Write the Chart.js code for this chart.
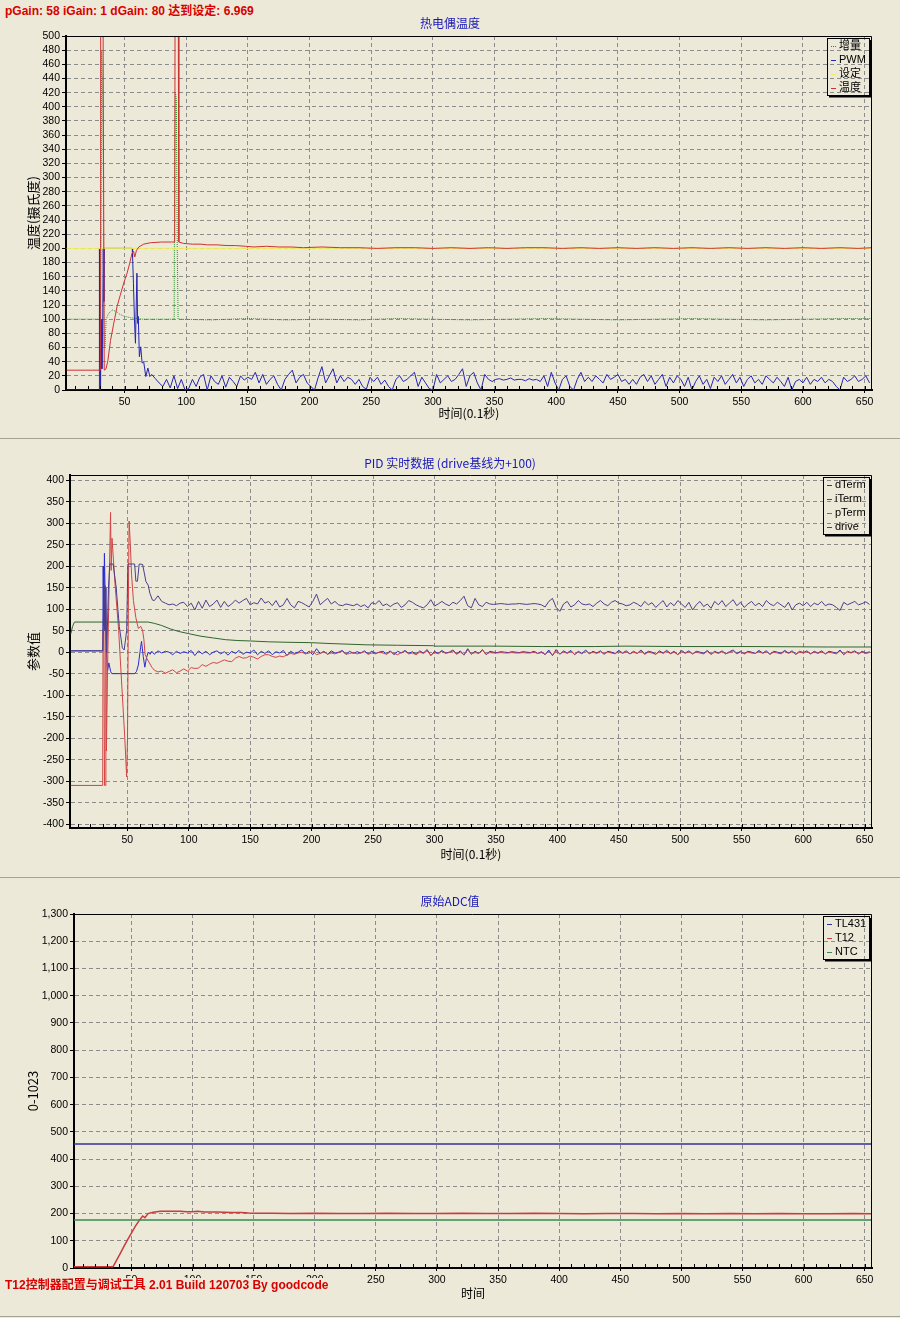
<!DOCTYPE html>
<html><head><meta charset="utf-8">
<script src="https://cdn.jsdelivr.net/npm/chart.js@4.4.0/dist/chart.umd.min.js"></script>
<style>
html,body{margin:0;padding:0;background:#ECE9D8;}
body{width:900px;height:1318px;position:relative;overflow:hidden;font-family:"Liberation Sans",Arial,"Noto Sans CJK SC",sans-serif;}
canvas{position:absolute;left:0;}
#c1{top:0;} #c2{top:440px;} #c3{top:879px;}
.sep{position:absolute;left:0;width:900px;height:1px;background:#A7A391;}
.red{position:absolute;left:5px;color:#D80000;font-weight:bold;font-size:12px;font-family:"Liberation Sans",Arial,"Noto Sans CJK SC",sans-serif;white-space:nowrap;line-height:14px;}
#hdr{top:4px;}
#ftr{top:1278px;background:#ECE9D8;padding:0 4px 0 0;}
</style></head><body>
<div class="red" id="hdr">pGain: 58 iGain: 1 dGain: 80 达到设定: 6.969</div>
<canvas id="c1" width="900" height="438"></canvas>
<div class="sep" style="top:438px"></div>
<canvas id="c2" width="900" height="437"></canvas>
<div class="sep" style="top:877px"></div>
<canvas id="c3" width="900" height="437"></canvas>
<div class="sep" style="top:1316px"></div>
<div class="red" id="ftr">T12控制器配置与调试工具 2.01 Build 120703 By goodcode</div>
<script>
// ---------------- DATA ----------------
// time axis (0.1 s units)
const tailStart = 72, tailStep = 3;
const xTicksStep = 50;

// Chart 1: 热电偶温度
const tempPoints = [[3,28],[30.4,28],[30.6,500],[32.6,500],[33.5,28],[35,30],[36.5,42],[38.6,70],[41,92],[43.9,118],[46.5,134],[49.3,151],[52,165],[54,178],[56,193],[57.3,196],[58.3,188],[59.6,197],[61.5,202],[65.5,206],[70.9,208],[80,209],[88,209],[90.6,209],[90.9,500],[93.6,500],[94,209],[98,207],[105,206],[112,206],[117,205],[125,205],[133,204],[140,204],[148,203],[155,202],[165,203],[175,202],[185,202],[195,201],[210,202],[225,201],[240,201],[255,200],[270,201],[285,201],[300,200],[315,201],[330,200],[345,201],[360,200],[375,201],[390,201],[405,200],[420,201],[435,200],[450,201],[465,200],[480,201],[495,200],[510,201],[525,200],[540,201],[555,200],[570,201],[585,200],[600,201],[615,200],[630,201],[645,200],[656,201]];
const setPoints = [[3,200],[656,200]];
const incPoints = [[3,100],[30.4,100],[30.8,220],[31.4,480],[32.2,420],[32.8,300],[33.4,60],[34.2,62],[35,100],[37,108],[40,113],[43,111],[46,107],[50,104],[55,102],[60,101],[65,100],[90.2,100],[90.6,310],[91.2,420],[92,410],[92.7,200],[93.4,100],[120,99],[150,101],[180,99],[210,100],[240,99],[270,101],[300,100],[330,99],[360,100],[390,101],[420,100],[450,99],[480,100],[510,101],[540,100],[570,99],[600,100],[630,101],[656,101]];
const pwmHead = [[3,0],[29.4,0],[29.6,200],[30.5,0],[31.0,100],[31.6,30],[32.3,100],[32.7,200],[33.2,125],[33.6,200],[56.2,200],[56.5,188],[57.2,150],[58.0,99],[58.8,66],[60.0,165],[60.6,94],[61.1,104],[62.0,47],[63.1,61],[64.2,38],[65.5,40],[67.2,19],[68.9,31],[70.5,19]];
const pwmTail = [
22,16,10,5,15,3,20,2,15,0,
2,15,5,18,22,0,20,12,8,20,
4,18,12,5,20,14,18,15,25,10,
22,8,15,20,8,0,15,22,28,10,
18,22,10,5,0,18,33,10,20,30,
10,20,12,18,15,8,15,5,1,18,
12,18,8,14,5,0,15,20,12,15,
20,25,5,18,10,2,0,22,10,15,
20,12,15,22,30,5,20,25,10,0,
22,15,12,15,16,14,15,17,14,15,
15,13,16,14,15,12,20,5,25,10,
0,15,20,5,0,15,25,12,18,12,
20,15,10,22,15,18,22,12,15,8,
15,8,18,22,12,20,8,15,22,5,
18,10,20,15,5,18,0,12,20,8,
15,2,18,12,20,8,15,22,10,18,
5,15,20,10,15,8,20,15,10,18,
12,5,18,0,12,15,10,18,8,15,
12,18,10,15,12,5,0,18,12,15,
20,12,15,20,10];

// Chart 2: PID 实时数据
const dTermHead = [[4,3],[30.1,3],[30.4,200],[30.8,60],[31.4,230],[31.9,150],[32.5,30],[33.9,-45],[35,-25],[36.5,-45],[37.4,-50],[56,-50],[57.5,-45],[59,-30],[60.8,10],[61.6,25],[63,-10],[64.3,-35],[65.5,-15],[67,0],[68.5,-5],[70,2]];
const dTermTail = [
-5,3,-2,2,0,-6,2,-3,1,-2,
4,-8,3,-4,2,-6,0,3,-4,1,
-7,2,-3,4,-5,0,-2,5,-6,2,
-3,3,-6,1,-2,4,-8,2,-3,0,
5,-4,2,-6,8,-3,2,-5,3,-2,
0,4,-5,2,-3,1,-2,3,-4,2,
-3,0,2,-4,3,-6,2,-2,4,-3,
1,-5,3,-2,6,-8,2,-3,4,-2,
0,5,-4,3,-7,8,-5,2,-3,6,
-6,2,0,-1,1,0,-1,1,0,-1,
1,0,-1,2,-3,1,-6,5,-8,6,
-5,3,-2,4,-6,2,-3,5,-4,2,
-2,3,-5,2,0,-3,4,-2,3,-4,
2,-3,5,-4,2,0,-5,3,-2,4,
-3,2,-6,4,-2,3,-4,2,0,-3,
4,-5,2,-2,3,-4,1,5,-3,2,
-4,2,0,-3,4,-2,3,-5,2,0,
-3,4,-2,3,-5,2,-1,3,-4,2,
-2,3,-4,2,0,-3,5,-6,2,-1,
3,-4,2,-2,1];
const iTermPoints = [[4,42],[5.5,60],[7,70],[67,70],[72,67],[78,62],[85,54],[92,48],[100,43],[110,37],[120,33],[130,29],[140,27],[150,26],[165,24],[180,23],[200,22],[215,20],[245,17],[270,16],[299,15],[300,14],[350,14],[388,13],[430,13],[455,14],[500,13],[560,13],[620,12],[656,12]];
const pTermHead = [[4,-310],[30,-310],[30.3,50],[31,60],[31.5,-310],[32.3,-310],[32.6,55],[33,-230],[34.2,0],[35.2,150],[36.4,325],[36.9,190],[37.6,265],[40,160],[43,50],[46,-100],[48,-200],[49.5,-290],[50.2,-200],[51,150],[51.5,305],[52.5,250],[53.5,180],[55,120],[57,80],[59,55],[61,60],[62.5,50],[63.5,30],[64.5,-5],[66,-15],[68,-25],[70,-35]];
const pTermTail = [
-42,-46,-44,-49,-45,-41,-48,-44,-39,-44,
-36,-38,-37,-29,-33,-28,-24,-26,-22,-18,
-21,-22,-14,-10,-14,-13,-9,-12,-16,-10,
-6,-6,-10,-12,-9,-11,-6,-3,-5,-2,
0,-4,-2,2,-6,-3,1,-5,-2,-4,
-1,2,-5,-3,-1,-4,-2,1,-5,-2,
-4,0,-2,-5,1,-3,-6,-1,2,-4,
-2,-6,0,-3,3,-7,-1,-4,2,-3,
-1,3,-5,0,-6,5,-4,-1,-3,4,
-5,-1,-2,-2,-1,-2,-2,-1,-2,-2,
-1,-2,-2,0,-3,-1,-5,2,-7,3,
-4,1,-3,2,-5,0,-4,3,-3,0,
-3,1,-4,0,-2,-4,2,-3,1,-4,
0,-3,3,-5,0,-2,-5,1,-3,2,
-4,0,-6,2,-3,1,-4,0,-2,-4,
2,-5,0,-3,1,-4,-1,3,-4,0,
-4,0,-2,-3,2,-3,1,-5,0,-2,
-4,2,-3,1,-5,0,-2,1,-4,0,
-3,1,-4,0,-2,-4,3,-5,0,-2,
1,-4,0,-3,-1];
const driveHead = [[4,3],[30.1,3],[30.5,60],[31.1,155],[31.8,50],[32.5,150],[33.3,0],[34.7,150],[35.8,205],[38.5,205],[41,150],[43.5,60],[46,10],[47.5,5],[49.5,50],[50.5,205],[56,205],[57,165],[58.3,165],[59.7,205],[62.5,204],[65.2,164],[67,156],[68.4,137],[70.5,121]];
const driveTail = [
120,131,118,114,110,112,108,114,116,106,
114,98,118,102,121,106,112,121,104,118,
106,112,121,114,120,125,110,115,112,126,
114,118,108,120,105,110,125,110,103,118,
115,110,105,118,135,110,118,125,112,118,
110,108,112,110,108,112,106,110,103,115,
112,120,108,112,106,112,115,104,110,120,
116,110,106,103,110,122,107,112,118,112,
108,116,112,120,130,108,103,125,110,106,
116,112,111,112,113,112,111,112,112,113,
112,111,112,113,112,110,105,118,125,104,
95,112,118,105,110,120,112,110,112,106,
114,120,112,108,116,120,114,112,108,110,
116,112,106,118,110,115,104,112,120,105,
115,108,120,112,104,116,98,110,118,106,
112,102,118,110,120,106,114,122,108,116,
104,112,118,108,114,106,120,112,108,116,
110,104,116,98,110,114,108,116,106,114,
110,118,108,112,110,104,97,116,110,114,
118,110,113,117,111];

// Chart 3: 原始ADC值
const tl431Points = [[3,455],[656,455]];
const ntcPoints = [[3,176],[656,176]];
const t12Points = [[3,5],[35,5],[38,30],[41,55],[44,80],[47,105],[50,128],[53,152],[56,172],[59.2,191],[61,185],[63.6,200],[67.7,205],[73.8,208],[90,208],[95,207],[100,207],[104,208],[110,206],[120,206],[126,205],[132,204],[140,204],[146,202],[152,201],[165,201],[180,200],[200,201],[220,200],[240,200],[260,201],[280,200],[300,200],[320,201],[340,200],[360,200],[380,201],[400,200],[420,199],[440,200],[460,200],[480,199],[500,200],[520,199],[540,200],[560,199],[580,200],[600,199],[620,199],[640,200],[656,199]];

// ---------------- HELPERS ----------------
const pairs = a => a.map(p => ({x: p[0], y: p[1]}));
const tail = vals => vals.map((v, i) => ({x: tailStart + i * tailStep, y: v}));
const FONT_LAT = '"Liberation Sans", Arial, "Noto Sans CJK SC", sans-serif';
const FONT_CJK = '"Noto Sans CJK SC", "Liberation Sans", sans-serif';

const framePlugin = {
  id: 'frame',
  afterDatasetsDraw(chart) {
    const {ctx, chartArea: a, scales: {x}} = chart;
    ctx.save();
    ctx.strokeStyle = '#000';
    ctx.lineWidth = 1;
    ctx.beginPath();
    ctx.moveTo(a.left, a.top + 0.5); ctx.lineTo(a.right - 0.5, a.top + 0.5); ctx.lineTo(a.right - 0.5, a.bottom);
    ctx.stroke();
    ctx.beginPath();
    for (let v = Math.ceil(x.min / 10) * 10; v <= x.max; v += 10) {
      const px = Math.round(x.getPixelForValue(v)) + 0.5;
      ctx.moveTo(px, a.bottom - 1); ctx.lineTo(px, a.bottom - 4);
    }
    ctx.stroke();
    ctx.restore();
  }
};
const titlePlugin = {
  id: 'chartTitle',
  afterDraw(chart, args, o) {
    const ctx = chart.ctx;
    ctx.save();
    ctx.font = o.font; ctx.fillStyle = o.color;
    ctx.textAlign = 'center'; ctx.textBaseline = 'middle';
    ctx.fillText(o.text, o.x, o.y);
    ctx.restore();
  }
};
const legendPlugin = {
  id: 'boxLegend',
  afterDraw(chart) {
    const {ctx, chartArea: a} = chart;
    const items = chart.data.datasets;
    ctx.save();
    ctx.font = '11px ' + FONT_LAT;
    const tw = Math.max(...items.map(d => ctx.measureText(d.label).width));
    const w = Math.round(tw + 15), h = items.length * 14 + 1;
    const right = a.right - 3, left = right - w, top = a.top + 2;
    ctx.strokeStyle = '#000'; ctx.lineWidth = 1;
    ctx.strokeRect(left + 0.5, top + 0.5, w, h);
    ctx.fillStyle = '#000';
    ctx.fillRect(left + 2, top + h + 1, w, 1.5);
    ctx.fillRect(left + w + 1, top + 2, 1.5, h);
    items.forEach((d, i) => {
      const cy = top + 8 + i * 14;
      ctx.strokeStyle = d.borderColor;
      ctx.setLineDash(d.borderDash || []);
      ctx.beginPath(); ctx.moveTo(left + 4, cy + 0.5); ctx.lineTo(left + 9, cy + 0.5); ctx.stroke();
      ctx.setLineDash([]);
      ctx.fillStyle = '#000'; ctx.textBaseline = 'middle'; ctx.textAlign = 'left';
      ctx.fillText(d.label, left + 12, cy);
    });
    ctx.restore();
  }
};

function makeChart(id, o) {
  const H = document.getElementById(id).height;
  return new Chart(document.getElementById(id), {
    type: 'line',
    data: {datasets: o.datasets.map(d => Object.assign({pointRadius: 0, borderWidth: 1, tension: 0, fill: false}, d))},
    options: {
      responsive: false, animation: false, devicePixelRatio: 1,
      layout: {padding: {top: o.top, right: 28, left: 0, bottom: 0}},
      plugins: {legend: {display: false}, tooltip: {enabled: false},
        chartTitle: {text: o.title, x: 450, y: o.titleY, font: '12px ' + FONT_CJK, color: '#1818B8'}},
      scales: {
        x: {type: 'linear', min: o.xMin, max: 656,
          ticks: {stepSize: xTicksStep, includeBounds: false, maxRotation: 0, autoSkip: false, padding: 3, color: '#000', font: {size: 10.5, family: FONT_LAT}},
          grid: {color: '#8c8c8c', lineWidth: 1, drawTicks: true, tickLength: 3, tickColor: '#000'},
          border: {display: true, color: '#000', width: 2, dash: [4, 3]},
          title: {display: true, text: o.xTitle, color: '#000', font: {size: 12, family: FONT_CJK}, padding: {top: 0, bottom: o.xTitlePad}},
          afterFit(s) { s.height = H - o.bottom; }
        },
        y: {type: 'linear', min: o.yMin, max: o.yMax,
          ticks: {stepSize: o.yStep, includeBounds: false, autoSkip: false, padding: 2, color: '#000', font: {size: 10.5, family: FONT_LAT},
            callback: v => v.toLocaleString('en-US')},
          grid: {color: '#8c8c8c', lineWidth: 1, drawTicks: true, tickLength: 4, tickColor: '#000'},
          border: {display: true, color: '#000', width: 2, dash: [4, 3]},
          title: {display: true, text: o.yTitle, color: '#000', font: {size: 13, family: FONT_CJK}, padding: {top: 25, bottom: 0}},
          afterFit(s) { s.width = o.left; }
        }
      }
    },
    plugins: [framePlugin, legendPlugin, titlePlugin]
  });
}

makeChart('c1', {
  title: '热电偶温度', titleY: 23, top: 36, bottom: 390, left: 66, xMin: 2.5,
  yMin: 0, yMax: 500, yStep: 20, yTitle: '温度(摄氏度)', xTitle: '时间(0.1秒)', xTitlePad: 17,
  datasets: [
    {label: '增量', data: pairs(incPoints), borderColor: '#2A8F2A', borderDash: [1, 1], order: 4},
    {label: 'PWM', data: pairs(pwmHead).concat(tail(pwmTail)), borderColor: '#2424B0', order: 3},
    {label: '设定', data: pairs(setPoints), borderColor: '#F2EE60', order: 2},
    {label: '温度', data: pairs(tempPoints), borderColor: '#D03030', order: 1}
  ]
});
makeChart('c2', {
  title: 'PID 实时数据 (drive基线为+100)', titleY: 23, top: 35, bottom: 388, left: 70, xMin: 3.4,
  yMin: -409, yMax: 412, yStep: 50, yTitle: '参数值', xTitle: '时间(0.1秒)', xTitlePad: 15,
  datasets: [
    {label: 'dTerm', data: pairs(dTermHead).concat(tail(dTermTail)), borderColor: '#2B2BD0', order: 4},
    {label: 'iTerm', data: pairs(iTermPoints), borderColor: '#2F6430', order: 3},
    {label: 'pTerm', data: pairs(pTermHead).concat(tail(pTermTail)), borderColor: '#D04545', order: 2},
    {label: 'drive', data: pairs(driveHead).concat(tail(driveTail)), borderColor: '#4A3E8C', order: 1}
  ]
});
makeChart('c3', {
  title: '原始ADC值', titleY: 22, top: 35, bottom: 389, left: 74, xMin: 3,
  yMin: 0, yMax: 1300, yStep: 100, yTitle: '0-1023', xTitle: '时间', xTitlePad: 15,
  datasets: [
    {label: 'TL431', data: pairs(tl431Points), borderColor: '#30309C', borderWidth: 1.5, order: 3},
    {label: 'T12', data: pairs(t12Points), borderColor: '#C83C3C', borderWidth: 1.5, order: 2},
    {label: 'NTC', data: pairs(ntcPoints), borderColor: '#3A8A4E', borderWidth: 1.5, order: 1}
  ]
});
</script>
</body></html>
